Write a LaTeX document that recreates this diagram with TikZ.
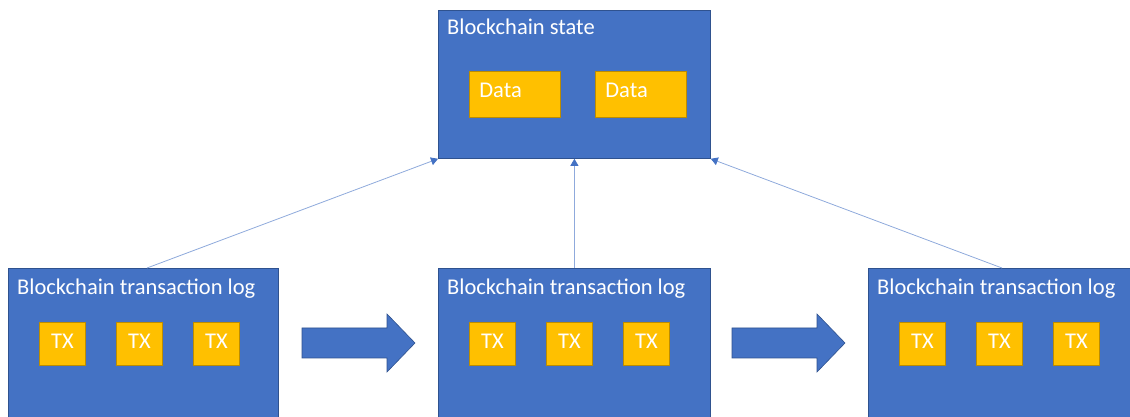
\documentclass[tikz,border=0pt]{standalone}
\usepackage{fontspec}
\setmainfont{Carlito}
\usetikzlibrary{arrows.meta}

\begin{document}
\begin{tikzpicture}[x=1pt,y=1pt]
\definecolor{boxColor}{RGB}{68,114,196}
\definecolor{boxLine}{RGB}{47,82,143}
\definecolor{itemColor}{RGB}{255,192,0}
\definecolor{itemLine}{RGB}{188,140,0}
\definecolor{linkColor}{RGB}{143,170,220}
\tikzset{
  chainbox/.style={draw=boxLine,line width=0.8pt,fill=boxColor,anchor=north west,inner sep=0pt},
  title/.style={text=white,anchor=base west,inner sep=0pt,font=\fontsize{22.5}{27}\selectfont},
  databox/.style={draw=itemLine,line width=0.8pt,fill=itemColor,anchor=north west,text=white,
    minimum width=91pt,minimum height=46pt,text width=71pt,align=left,inner xsep=10pt,
    text height=12pt,text depth=6pt,font=\fontsize{22.5}{27}\selectfont},
  txbox/.style={draw=itemLine,line width=0.8pt,fill=itemColor,anchor=north west,text=white,
    minimum width=46pt,minimum height=43pt,inner sep=0pt,text height=13pt,text depth=4pt,
    font=\fontsize{22.5}{27}\selectfont},
  link/.style={draw=linkColor,line width=0.8pt,-{Triangle[width=8pt,length=7pt,fill=boxColor,color=boxColor]}},
  bigarrow/.style={draw=boxLine,line width=0.6pt,fill=boxColor}
}
\path[use as bounding box,fill=white] (0,0) rectangle (1130,417);
\begin{scope}
\path[clip] (0,0) rectangle (1130,417);

% state on top
\node[chainbox,minimum width=272pt,minimum height=148pt] (state) at (438,407) {};
\node[title] (stateTitle) at (447,382) {Blockchain state};
\node[databox] (data1) at (469,346) {Data};
\node[databox] (data2) at (595,346) {Data};

% transaction logs
\foreach \name/\x/\w in {logA/8/270, logB/438/272, logC/868/270} {
  \node[chainbox,minimum width=\w pt,minimum height=170pt] (\name) at (\x,149) {};
  \node[title] (\name Title) at (\x+9,122) {Blockchain transaction log};
  \foreach \i in {0,1,2}
    \node[txbox] (\name tx\i) at (\x+31+77*\i,95) {TX};
}

% big arrows between the logs
\foreach \dx in {0,430}
  \path[bigarrow] (302+\dx,59) -- (387+\dx,59) -- (387+\dx,45) -- (415+\dx,74)
    -- (387+\dx,103) -- (387+\dx,89) -- (302+\dx,89) -- cycle;

% links to the state
\coordinate (linkA) at (147,149);
\coordinate (linkC) at (1002,149);
\path[link] (linkA) -- (state.south west);
\path[link] (logB.north -| state.south) -- (state.south);
\path[link] (linkC) -- (state.south east);
\end{scope}
\end{tikzpicture}
\end{document}
